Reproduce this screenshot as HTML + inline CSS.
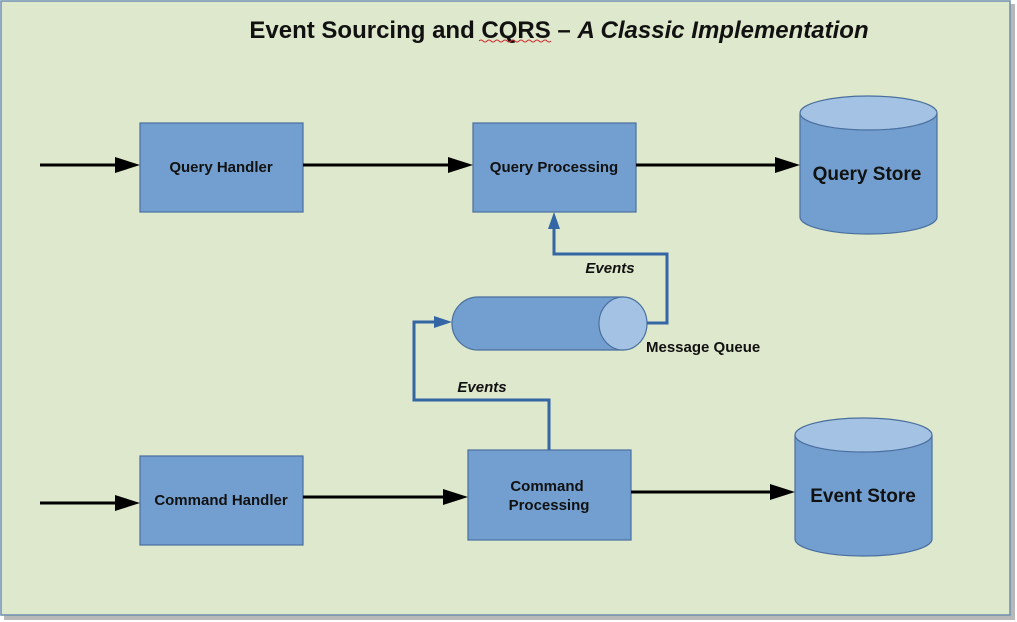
<!DOCTYPE html>
<html><head><meta charset="utf-8"><style>
html,body{margin:0;padding:0;background:#fff;}
svg{display:block;}
text{font-family:"Liberation Sans",sans-serif;font-weight:bold;fill:#111;}
</style></head><body>
<svg width="1017" height="622" viewBox="0 0 1017 622">
<defs>
<marker id="ab" markerWidth="10" markerHeight="10" refX="9" refY="5" orient="auto" markerUnits="userSpaceOnUse"><path d="M0,0 L0,0"/></marker>
</defs>
<rect x="4" y="4" width="1011" height="616" fill="#b8b8b8"/>
<rect x="1" y="1" width="1009" height="614" fill="#dde8cc" stroke="#6f8fb0" stroke-width="1.5"/>
<text x="559" y="38" font-size="24" text-anchor="middle">Event Sourcing and CQRS – <tspan font-style="italic">A Classic Implementation</tspan></text>
<path d="M479,41 q2,-2 4,0 t4,0 t4,0 t4,0 t4,0 t4,0 t4,0 t4,0 t4,0 t4,0 t4,0 t4,0 t4,0 t4,0 t4,0 t4,0 t4,0 t4,0" stroke="#d03030" fill="none" stroke-width="1"/>

<g fill="#729fcf" stroke="#4a6f9e" stroke-width="1.2">
<rect x="140" y="123" width="163" height="89"/>
<rect x="473" y="123" width="163" height="89"/>
<rect x="140" y="456" width="163" height="89"/>
<rect x="468" y="450" width="163" height="90"/>
<path d="M800,113 L800,217 A68.5,17 0 0 0 937,217 L937,113"/>
<ellipse cx="868.5" cy="113" rx="68.5" ry="17" fill="#a4c2e3"/>
<path d="M795,435 L795,539 A68.5,17 0 0 0 932,539 L932,435"/>
<ellipse cx="863.5" cy="435" rx="68.5" ry="17" fill="#a4c2e3"/>
<path d="M478,297 L623,297 L623,350 L478,350 A26,26.5 0 0 1 478,297 Z"/>
<ellipse cx="623" cy="323.5" rx="24" ry="26.5" fill="#a4c2e3"/>
</g>

<g stroke="#000" stroke-width="3" fill="none">
<line x1="40" y1="165" x2="120" y2="165"/>
<line x1="303" y1="165" x2="453" y2="165"/>
<line x1="636" y1="165" x2="780" y2="165"/>
<line x1="40" y1="503" x2="120" y2="503"/>
<line x1="303" y1="497" x2="448" y2="497"/>
<line x1="631" y1="492" x2="775" y2="492"/>
</g>
<g fill="#000">
<polygon points="115,157 140,165 115,173"/>
<polygon points="448,157 473,165 448,173"/>
<polygon points="775,157 800,165 775,173"/>
<polygon points="115,495 140,503 115,511"/>
<polygon points="443,489 468,497 443,505"/>
<polygon points="770,484 795,492 770,500"/>
</g>

<g stroke="#3465a4" stroke-width="3" fill="none">
<polyline points="549,450 549,400 414,400 414,322 438,322"/>
<polyline points="647,323 667,323 667,254 554,254 554,228"/>
</g>
<g fill="#3465a4">
<polygon points="434,316 452,322 434,328"/>
<polygon points="548,229 554,212 560,229"/>
</g>

<text x="221" y="172" font-size="15" text-anchor="middle">Query Handler</text>
<text x="554" y="172" font-size="15" text-anchor="middle">Query Processing</text>
<text x="867" y="180" font-size="19" text-anchor="middle">Query Store</text>
<text x="221" y="505" font-size="15" text-anchor="middle">Command Handler</text>
<text x="547" y="491" font-size="15" text-anchor="middle">Command</text>
<text x="549" y="510" font-size="15" text-anchor="middle">Processing</text>
<text x="863" y="502" font-size="19" text-anchor="middle">Event Store</text>
<text x="610" y="273" font-size="15" font-style="italic" text-anchor="middle">Events</text>
<text x="482" y="392" font-size="15" font-style="italic" text-anchor="middle">Events</text>
<text x="646" y="352" font-size="15">Message Queue</text>
</svg>
</body></html>
